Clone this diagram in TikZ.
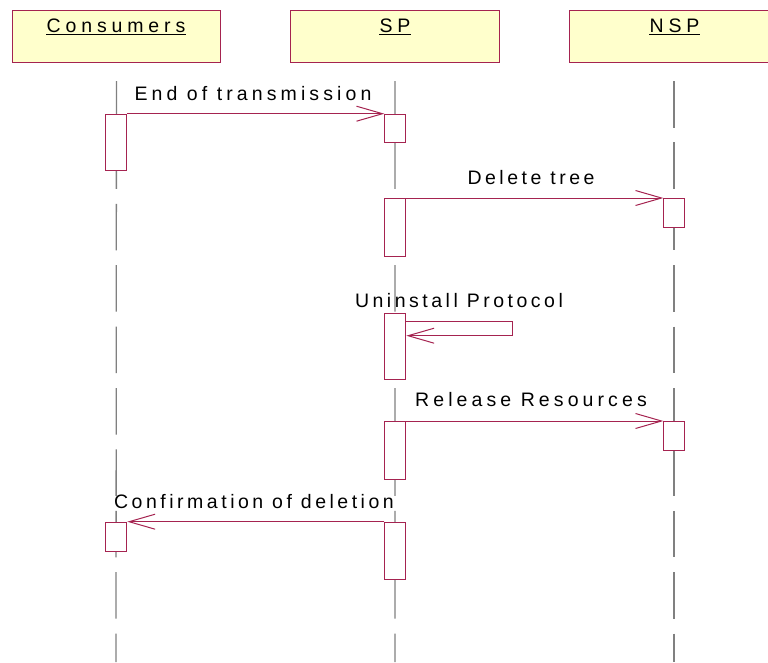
\documentclass[tikz,border=0pt]{standalone}
\usepackage{fontspec}
\setmainfont{Liberation Sans}
\usetikzlibrary{arrows.meta}
\definecolor{rr}{RGB}{165,35,80}
\definecolor{hdr}{RGB}{255,255,204}
\definecolor{lifec}{RGB}{128,128,128}
\newfontfamily\lblfont[LetterSpace=18]{Liberation Sans}
\newfontfamily\lblfontw[LetterSpace=21]{Liberation Sans}
\newfontfamily\hdrfont[LetterSpace=25]{Liberation Sans}
\begin{document}
\begin{tikzpicture}[x=1pt,y=-1pt,
  head/.style={draw=rr, fill=hdr, line width=1pt, minimum width=208.5pt, minimum height=52.6pt, inner sep=0pt, anchor=north west},
  htext/.style={font=\hdrfont\fontsize{19.5}{22}\selectfont, anchor=base, inner sep=0pt, text=black},
  act/.style={draw=rr, fill=white, line width=1pt, minimum width=21pt, inner sep=0pt, anchor=north west},
  life/.style={draw=lifec, line width=1.3pt, dash pattern=on 46.5pt off 14.9pt},
  msg/.style={draw=rr, line width=1pt, -{Straight Barb[length=26pt,width=15pt,line width=1pt]}},
  mlabel/.style={font=\lblfont\fontsize{19.5}{22}\selectfont, anchor=base, inner sep=0pt, text=black},
  mlabelw/.style={font=\lblfontw\fontsize{19.5}{22}\selectfont, anchor=base, inner sep=0pt, text=black}
]
\clip (0,0) rectangle (768,662);
\fill[white] (0,0) rectangle (768,662);

% header boxes
\node[head] (cons) at (11.7,9.7) {};
\node[head] (sp) at (290.3,9.7) {};
\node[head, minimum width=210pt] (nsp) at (569,9.7) {};
\node[htext] (consT) at (116,32.3) {Consumers};
\node[htext] (spT) at (395,32.3) {SP};
\node[htext] (nspT) at (674.5,32.3) {NSP};
\draw[line width=1.4pt] ([yshift=-2pt]consT.base west) -- ([yshift=-2pt]consT.base east);
\draw[line width=1.4pt] ([yshift=-2pt]spT.base west) -- ([yshift=-2pt]spT.base east);
\draw[line width=1.4pt] ([yshift=-2pt]nspT.base west) -- ([yshift=-2pt]nspT.base east);

% lifelines
\coordinate (consB) at (116,662);
\coordinate (spB) at (395,662);
\coordinate (nspB) at (674,662);
\draw[life] ([yshift=-17.7pt]cons.south) -- (consB);
\draw[life] ([yshift=-17.7pt]sp.south) -- (spB);
\draw[life] ([yshift=-17.7pt]cons.south -| nspB) -- (nspB);

% activations
\node[act, minimum height=56.3pt] (c1) at (105.3,113.7) {};
\node[act, minimum height=28.6pt] (s1) at (384.3,113.7) {};
\node[act, minimum height=58pt] (s2) at (384.3,198) {};
\node[act, minimum height=29pt] (n1) at (663.3,198) {};
\node[act, minimum height=65.7pt] (s3) at (384.3,313.3) {};
\node[act, minimum height=58pt] (s4) at (384.3,421) {};
\node[act, minimum height=29pt] (n2) at (663.3,421) {};
\node[act, minimum height=29.3pt] (c2) at (105.3,521.7) {};
\node[act, minimum height=57.3pt] (s5) at (384.3,521.7) {};

% messages
\draw[msg] (c1.north east) -- (s1.north west);
\node[mlabelw] (m1) at (253,100) {End of transmission};
\draw[msg] (s2.north east) -- (n1.north west);
\node[mlabel] (m2) at (531,184.3) {Delete tree};
\draw[msg] ([yshift=-8.4pt]s3.north east) -- ++(105.7,0) -- ++(0,14) -- ([yshift=-22.4pt]s3.north east);
\node[mlabel] (m3) at (459,307.3) {Uninstall Protocol};
\draw[msg] (s4.north east) -- (n2.north west);
\node[mlabelw] (m4) at (531,406.7) {Release Resources};
\draw[msg] (s5.north west) -- (c2.north east);
\node[mlabel] (m5) at (254,508.3) {Confirmation of deletion};
\end{tikzpicture}
\end{document}
